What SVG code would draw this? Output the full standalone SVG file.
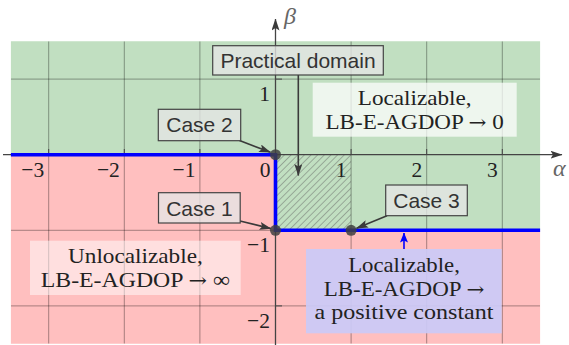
<svg xmlns="http://www.w3.org/2000/svg" width="569" height="345" viewBox="0 0 569 345">
  <style>
    .grid { stroke: #000; stroke-opacity: 0.35; stroke-width: 1; fill: none; }
    .tick { stroke: #444; stroke-width: 1; }
    .axis { stroke: #444; stroke-width: 1.3; fill: none; }
    .num { font-family: "Liberation Serif", "DejaVu Serif", serif; font-size: 21.5px; fill: #222; text-anchor: end; }
    .var { font-family: "Liberation Serif", "DejaVu Serif", serif; font-style: italic; font-size: 24px; fill: #666; }
    .case rect { fill: #e6e6e6; fill-opacity: 0.78; stroke: #444; stroke-width: 1.2; }
    .case text { font-family: "Liberation Sans", Arial, sans-serif; font-size: 21px; fill: #333; text-anchor: middle; }
    .note text { font-family: "Liberation Serif", "DejaVu Serif", serif; font-size: 21.5px; fill: #222; text-anchor: middle; }
    .note .sym { font-family: "DejaVu Serif", serif; font-size: 20px; }
    .conn { stroke: #3a3a3a; stroke-width: 1.6; fill: none; }
    .dot { fill: #3f3f3f; fill-opacity: 0.85; }
  </style>
  <defs>
    <marker id="ah" viewBox="0 0 12 8" refX="11.5" refY="4" markerWidth="12" markerHeight="8" markerUnits="userSpaceOnUse" orient="auto">
      <path d="M0,0 L12,4 L0,8 L2.5,4 z" fill="#3a3a3a"/>
    </marker>
    <marker id="ahb" viewBox="0 0 10 8" refX="9.5" refY="4" markerWidth="10" markerHeight="8" markerUnits="userSpaceOnUse" orient="auto">
      <path d="M0,0 L10,4 L0,8 L2,4 z" fill="#0000ff"/>
    </marker>
    <pattern id="hatch" patternUnits="userSpaceOnUse" width="4.7" height="10" patternTransform="rotate(45)">
      <line x1="0" y1="0" x2="0" y2="10" stroke="#5f5f5f" stroke-opacity="0.85" stroke-width="1"/>
    </pattern>
    <clipPath id="plot">
      <rect x="10.9" y="41.3" width="529.2" height="302.4"/>
    </clipPath>
  </defs>

  <!-- regions -->
  <g id="regions">
    <path d="M10.9,41.3 H540.1 V230.3 H275.5 V154.7 H10.9 Z" fill="#c1dfc1"/>
    <path d="M10.9,154.7 H275.5 V230.3 H540.1 V343.7 H10.9 Z" fill="#ffbfbf"/>
    <rect x="275.5" y="154.7" width="75.6" height="75.6" fill="url(#hatch)"/>
  </g>

  <!-- grid -->
  <g id="grid" class="grid" clip-path="url(#plot)">
    <path d="M48.7,41.3 V343.7 M124.3,41.3 V343.7 M199.9,41.3 V343.7 M351.1,41.3 V343.7 M426.7,41.3 V343.7 M502.3,41.3 V343.7"/>
    <path d="M10.9,79.1 H540.1 M10.9,230.3 H540.1 M10.9,305.9 H540.1"/>
  </g>

  <!-- axes -->
  <g id="axes">
    <path class="tick" d="M48.7,149 V154.7 M124.3,149 V154.7 M199.9,149 V154.7 M351.1,149 V154.7 M426.7,149 V154.7 M502.3,149 V154.7"/>
    <path class="tick" d="M275.5,79.1 H282 M275.5,230.3 H282 M275.5,305.9 H282"/>
    <line class="axis" x1="3" y1="154.7" x2="562" y2="154.7" marker-end="url(#ah)"/>
    <line class="axis" x1="275.5" y1="345" x2="275.5" y2="19" marker-end="url(#ah)"/>
    <text class="var" x="553" y="176">α</text>
    <text class="var" x="284" y="24">β</text>
    <text class="num" x="44.2" y="177">−3</text>
    <text class="num" x="119.8" y="177">−2</text>
    <text class="num" x="195.4" y="177">−1</text>
    <text class="num" x="270.5" y="177">0</text>
    <text class="num" x="346.6" y="177">1</text>
    <text class="num" x="422.2" y="177">2</text>
    <text class="num" x="497.8" y="177">3</text>
    <text class="num" x="270" y="100.8">1</text>
    <text class="num" x="270" y="252">−1</text>
    <text class="num" x="270" y="327.5">−2</text>
  </g>

  <!-- boundary between the regions -->
  <g id="boundary">
    <path d="M10.9,154.7 H275.5 V230.3 H540.1" fill="none" stroke="#0000ff" stroke-width="3.6"/>
  </g>

  <!-- connectors -->
  <g id="connectors">
    <line class="conn" x1="298.3" y1="75" x2="298.3" y2="175.5" marker-end="url(#ah)"/>
    <line class="conn" x1="239.5" y1="140.5" x2="270.5" y2="152.3" marker-end="url(#ah)"/>
    <line class="conn" x1="240" y1="221" x2="271" y2="228.6" marker-end="url(#ah)"/>
    <line class="conn" x1="387" y1="215.7" x2="356.5" y2="228.2" marker-end="url(#ah)"/>
    <line x1="404" y1="249" x2="404" y2="233" stroke="#0000ff" stroke-width="1.6" marker-end="url(#ahb)"/>
  </g>

  <!-- corner points -->
  <g id="points">
    <circle class="dot" cx="275.5" cy="154.7" r="5.5"/>
    <circle class="dot" cx="275.5" cy="230.3" r="5.5"/>
    <circle class="dot" cx="351.1" cy="230.3" r="5.5"/>
  </g>

  <g id="practical-domain" class="case">
    <rect x="212.7" y="45.7" width="170.6" height="29.3"/>
    <text x="298" y="67.5">Practical domain</text>
  </g>
  <g id="case-2" class="case">
    <rect x="158.3" y="109.3" width="82.4" height="31.4"/>
    <text x="199.5" y="132.3">Case 2</text>
  </g>
  <g id="case-1" class="case">
    <rect x="158.5" y="192.7" width="81.7" height="30.3"/>
    <text x="199.4" y="215.6">Case 1</text>
  </g>
  <g id="case-3" class="case">
    <rect x="385.7" y="185" width="81.6" height="30.7"/>
    <text x="426.5" y="207.7">Case 3</text>
  </g>

  <g id="localizable-zero" class="note">
    <rect x="312.7" y="82.7" width="204" height="54" fill="#ffffff" fill-opacity="0.72"/>
    <text x="414.7" y="105" textLength="113.7" lengthAdjust="spacingAndGlyphs">Localizable,</text>
    <text x="414.7" y="128.5" textLength="178.3" lengthAdjust="spacingAndGlyphs">LB-E-AGDOP <tspan class="sym">→</tspan> 0</text>
  </g>
  <g id="unlocalizable" class="note">
    <rect x="30" y="240.7" width="210.7" height="54.3" fill="#ffffff" fill-opacity="0.5"/>
    <text x="135.4" y="263.3" textLength="134.7" lengthAdjust="spacingAndGlyphs">Unlocalizable,</text>
    <text x="135.4" y="287.3" textLength="189.3" lengthAdjust="spacingAndGlyphs">LB-E-AGDOP <tspan class="sym">→</tspan> ∞</text>
  </g>
  <g id="localizable-constant" class="note">
    <rect x="306" y="249" width="195.7" height="84.3" fill="#cbcaf7" fill-opacity="0.92"/>
    <text x="404" y="271.7" textLength="111.7" lengthAdjust="spacingAndGlyphs">Localizable,</text>
    <text x="404" y="296" textLength="160.7" lengthAdjust="spacingAndGlyphs">LB-E-AGDOP <tspan class="sym">→</tspan></text>
    <text x="404" y="319.3" textLength="179" lengthAdjust="spacingAndGlyphs">a positive constant</text>
  </g>
</svg>
